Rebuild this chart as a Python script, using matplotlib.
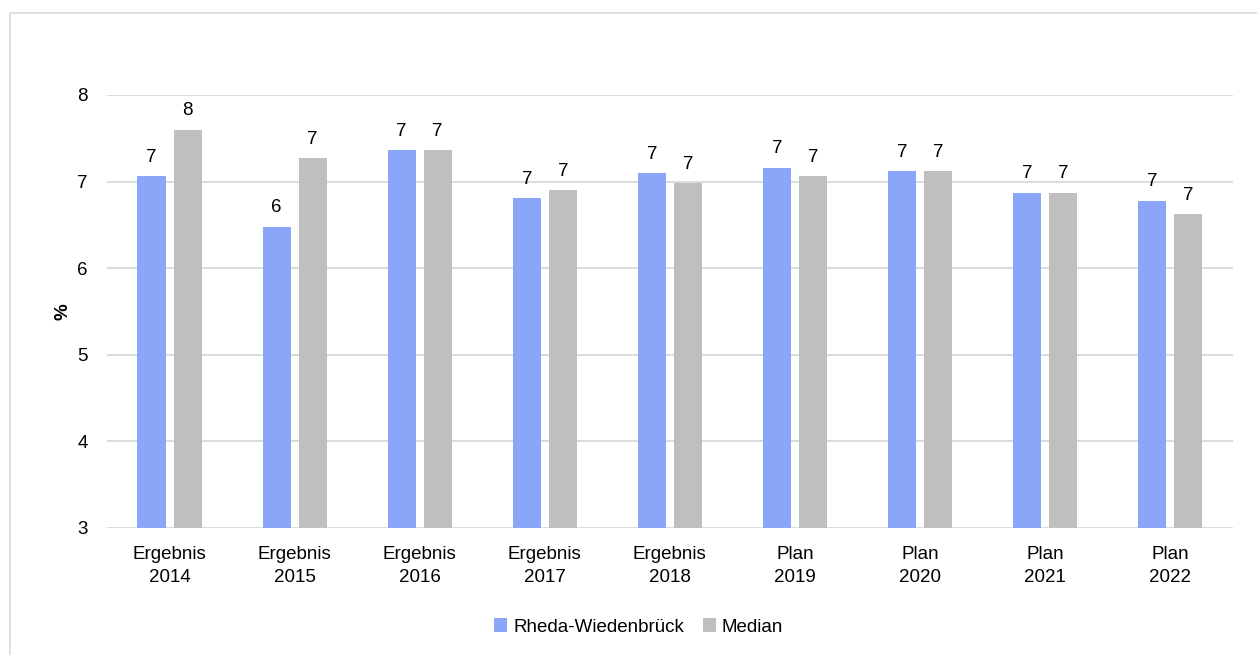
import numpy as np
import matplotlib.pyplot as plt
from matplotlib.patches import Rectangle

plt.rcParams['font.family'] = ['Liberation Sans', 'DejaVu Sans']

categories = ['Ergebnis\n2014', 'Ergebnis\n2015', 'Ergebnis\n2016', 'Ergebnis\n2017',
              'Ergebnis\n2018', 'Plan\n2019', 'Plan\n2020', 'Plan\n2021', 'Plan\n2022']
rheda = [7.06, 6.48, 7.36, 6.81, 7.10, 7.16, 7.12, 6.87, 6.78]
median = [7.60, 7.27, 7.36, 6.90, 6.98, 7.06, 7.12, 6.87, 6.62]

blue = '#8AA6F9'
grey = '#BFBFBF'

fig = plt.figure(figsize=(12.57, 6.55), dpi=100)
ax = fig.add_axes([0.0851, 0.1939, 0.8956, 0.6611])

# outer frame of the chart area (runs off the right and bottom edge)
fig.patches.append(Rectangle((10 / 1257, -0.1), 1.2, 1 - 13 / 655 + 0.1,
                             transform=fig.transFigure, fill=False,
                             edgecolor='#D9D9D9', linewidth=1.2))

x = np.arange(len(categories))
w = 0.224
off = 0.144
b1 = ax.bar(x - off, np.array(rheda) - 3, w, bottom=3, color=blue, label='Rheda-Wiedenbrück', zorder=3)
b2 = ax.bar(x + off, np.array(median) - 3, w, bottom=3, color=grey, label='Median', zorder=3)

for xi, v in zip(x - off, rheda):
    ax.text(xi, v + 0.12, f'{v:.0f}', ha='center', va='bottom', fontsize=13.5)
for xi, v in zip(x + off, median):
    ax.text(xi, v + 0.12, f'{v:.0f}', ha='center', va='bottom', fontsize=13.5)

ax.set_ylim(3, 8)
ax.set_xlim(-0.5, len(categories) - 0.5)
ax.set_yticks([3, 4, 5, 6, 7, 8])
ax.set_xticks(x)
ax.set_xticklabels(categories, fontsize=13.5, linespacing=1.45)
ax.tick_params(axis='y', labelsize=13.5, length=0, pad=14)
ax.tick_params(axis='x', length=0, pad=13)
ax.yaxis.grid(True, color='#D9D9D9', linewidth=1.3, zorder=0)
ax.set_axisbelow(True)
for s in ax.spines.values():
    s.set_visible(False)

ax.set_ylabel('%', fontsize=13.5, fontweight='bold', labelpad=4)

leg = fig.legend(handles=[b1, b2], loc='center', bbox_to_anchor=(0.508, 1 - 627 / 655),
                 ncol=2, frameon=False, fontsize=13.5, handlelength=0.7, handleheight=0.7,
                 handletextpad=0.3, columnspacing=1.0)

fig.savefig('out.png', dpi=100)
